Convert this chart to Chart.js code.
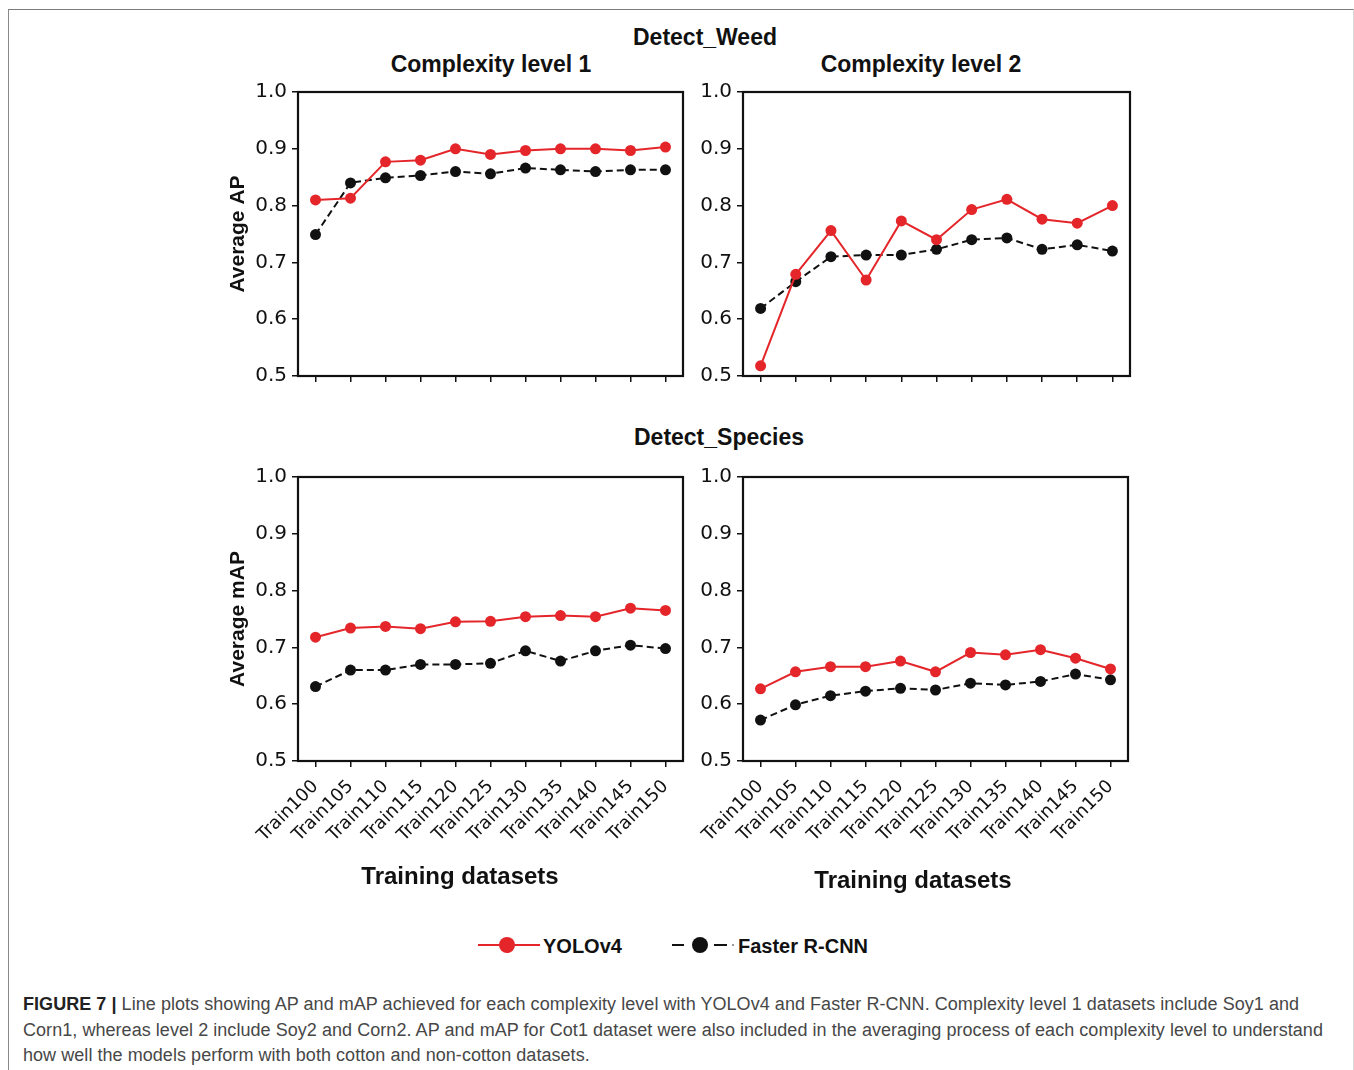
<!DOCTYPE html>
<html>
<head>
<meta charset="utf-8">
<script src="https://cdn.jsdelivr.net/npm/chart.js@4.4.1/dist/chart.umd.min.js"></script>
<style>
  body { margin: 0; background: #fff; }
  #page { position: relative; width: 1354px; height: 1070px; overflow: hidden; background: #fff; }
  #frame { position: absolute; left: 8px; top: 9px; width: 1344px; height: 1080px;
           border-top: 1.5px solid #7a7a7a; border-left: 1.5px solid #8a8a8a; border-right: 1px solid #d8d8d8; }
  .ttl { position: absolute; font-family: "Liberation Sans", Arial, sans-serif; font-weight: bold;
         font-size: 23px; color: #111; transform: translate(-50%, -50%); white-space: nowrap; }
  .xttl { font-size: 24px; }
  canvas { position: absolute; }
  .leg { position: absolute; font-family: "Liberation Sans", Arial, sans-serif; font-weight: bold;
         font-size: 20px; color: #111; transform: translateY(-50%); white-space: nowrap; }
  .seg { position: absolute; height: 2px; }
  .dot { position: absolute; border-radius: 50%; }
  #caption { position: absolute; left: 23px; top: 992px; font-family: "Liberation Sans Narrow", "Liberation Sans", Arial, sans-serif;
             font-size: 18px; letter-spacing: 0.05px; line-height: 25.5px; color: #474747; white-space: nowrap; }
  #caption b { color: #222; }
</style>
</head>
<body>
<div id="page">
  <div id="frame"></div>

  <div class="ttl" style="left:705px; top:37px;">Detect_Weed</div>
  <div class="ttl" style="left:491px; top:64px;">Complexity level 1</div>
  <div class="ttl" style="left:921px; top:64px;">Complexity level 2</div>
  <div class="ttl" style="left:719px; top:437px;">Detect_Species</div>

  <canvas id="c1" width="500" height="326" style="left:200px; top:70px;"></canvas>
  <canvas id="c2" width="447" height="326" style="left:700px; top:70px;"></canvas>
  <canvas id="c3" width="500" height="431" style="left:200px; top:460px;"></canvas>
  <canvas id="c4" width="456" height="431" style="left:690px; top:460px;"></canvas>

  <div class="ttl xttl" style="left:460px; top:876px;">Training datasets</div>
  <div class="ttl xttl" style="left:913px; top:880px;">Training datasets</div>

  <!-- legend -->
  <div class="seg" style="left:478px; top:944px; width:62px; background:#e4262b;"></div>
  <div class="dot" style="left:499px; top:937px; width:16px; height:16px; background:#e4262b;"></div>
  <div class="leg" style="left:543px; top:946px;">YOLOv4</div>
  <div class="seg" style="left:672px; top:944px; width:12px; background:#111;"></div>
  <div class="dot" style="left:692px; top:937px; width:16px; height:16px; background:#111;"></div>
  <div class="seg" style="left:714px; top:944px; width:13px; background:#111;"></div>
  <div class="dot" style="left:732px; top:944px; width:2px; height:2px; background:#777;"></div>
  <div class="leg" style="left:738px; top:946px;">Faster R-CNN</div>

  <div id="caption"><b>FIGURE 7&nbsp;|</b>&nbsp;Line plots showing AP and mAP achieved for each complexity level with YOLOv4 and Faster R-CNN. Complexity level 1 datasets include Soy1 and<br>Corn1, whereas level 2 include Soy2 and Corn2. AP and mAP for Cot1 dataset were also included in the averaging process of each complexity level to understand<br>how well the models perform with both cotton and non-cotton datasets.</div>
</div>

<script>
const trainSets = ['Train100', 'Train105', 'Train110', 'Train115', 'Train120', 'Train125',
                   'Train130', 'Train135', 'Train140', 'Train145', 'Train150'];

// Detect_Weed, complexity level 1 (Average AP)
const yoloWeedL1 = [0.810, 0.813, 0.877, 0.880, 0.900, 0.890, 0.897, 0.900, 0.900, 0.897, 0.903];
const frcnnWeedL1 = [0.749, 0.840, 0.849, 0.853, 0.860, 0.856, 0.866, 0.863, 0.860, 0.863, 0.863];

// Detect_Weed, complexity level 2
const yoloWeedL2 = [0.518, 0.679, 0.756, 0.669, 0.773, 0.740, 0.793, 0.811, 0.776, 0.769, 0.800];
const frcnnWeedL2 = [0.619, 0.666, 0.710, 0.713, 0.713, 0.723, 0.740, 0.743, 0.723, 0.731, 0.720];

// Detect_Species, complexity level 1 (Average mAP)
const yoloSpeciesL1 = [0.718, 0.734, 0.737, 0.733, 0.745, 0.746, 0.754, 0.756, 0.754, 0.769, 0.765];
const frcnnSpeciesL1 = [0.631, 0.660, 0.660, 0.670, 0.670, 0.672, 0.694, 0.676, 0.694, 0.704, 0.698];

// Detect_Species, complexity level 2
const yoloSpeciesL2 = [0.627, 0.657, 0.666, 0.666, 0.676, 0.657, 0.691, 0.687, 0.696, 0.681, 0.662];
const frcnnSpeciesL2 = [0.572, 0.599, 0.615, 0.623, 0.628, 0.625, 0.637, 0.634, 0.640, 0.653, 0.643];

const RED = '#e4262b';

// black box round the plot area, like matplotlib spines
const boxPlugin = {
    id: 'box',
    beforeDatasetsDraw(chart) {
        const a = chart.chartArea;
        const ctx = chart.ctx;
        ctx.save();
        ctx.strokeStyle = '#111';
        ctx.lineWidth = 2.2;
        ctx.strokeRect(a.left, a.top, a.right - a.left, a.bottom - a.top);
        ctx.restore();
    }
};

function makePanel(id, yolo, frcnn, o) {
    const ctx = document.getElementById(id).getContext('2d');
    return new Chart(ctx, {
        type: 'line',
        data: {
            labels: trainSets,
            datasets: [
                {
                    label: 'YOLOv4',
                    data: yolo,
                    borderColor: RED,
                    backgroundColor: RED,
                    borderWidth: 2,
                    pointRadius: 5.5,
                    pointBorderWidth: 0,
                    tension: 0,
                    clip: false
                },
                {
                    label: 'Faster R-CNN',
                    data: frcnn,
                    borderColor: '#111',
                    backgroundColor: '#111',
                    borderWidth: 2,
                    borderDash: [7, 4],
                    pointRadius: 5.5,
                    pointBorderWidth: 0,
                    tension: 0,
                    clip: false
                }
            ]
        },
        options: {
            responsive: false,
            animation: false,
            devicePixelRatio: 1,
            layout: { padding: { left: 0, right: o.padRight, top: o.padTop, bottom: 0 } },
            plugins: {
                legend: { display: false },
                tooltip: { enabled: false }
            },
            scales: {
                x: {
                    offset: true,
                    border: { display: false },
                    grid: { drawOnChartArea: false, drawTicks: true, tickLength: 6, color: '#111', lineWidth: 1.5 },
                    ticks: {
                        display: o.xLabels,
                        autoSkip: false,
                        minRotation: 45,
                        maxRotation: 45,
                        padding: 9,
                        color: '#111',
                        font: { family: 'DejaVu Sans', size: 18 }
                    },
                    afterFit(scale) { scale.height = o.xHeight; }
                },
                y: {
                    min: 0.5,
                    max: 1.0,
                    border: { display: false },
                    grid: { drawOnChartArea: false, drawTicks: true, tickLength: 6, color: '#111', lineWidth: 1.5 },
                    ticks: {
                        stepSize: 0.1,
                        padding: 5,
                        color: '#111',
                        font: { family: 'DejaVu Sans', size: 20 },
                        callback: (v) => Number(v).toFixed(1)
                    },
                    title: {
                        display: !!o.yTitle,
                        text: o.yTitle || '',
                        color: '#111',
                        padding: { top: 26, bottom: 0 },
                        font: { family: 'Liberation Sans', size: 21, weight: 'bold' }
                    },
                    afterFit(scale) { scale.width = o.yWidth; }
                }
            }
        },
        plugins: [boxPlugin]
    });
}

makePanel('c1', yoloWeedL1, frcnnWeedL1,
    { yTitle: 'Average AP', xLabels: false, xHeight: 20, yWidth: 98, padTop: 22, padRight: 17 });
makePanel('c2', yoloWeedL2, frcnnWeedL2,
    { xLabels: false, xHeight: 20, yWidth: 43, padTop: 22, padRight: 17 });
makePanel('c3', yoloSpeciesL1, frcnnSpeciesL1,
    { yTitle: 'Average mAP', xLabels: true, xHeight: 130, yWidth: 98, padTop: 17, padRight: 17 });
makePanel('c4', yoloSpeciesL2, frcnnSpeciesL2,
    { xLabels: true, xHeight: 130, yWidth: 53, padTop: 17, padRight: 18 });
</script>
</body>
</html>
